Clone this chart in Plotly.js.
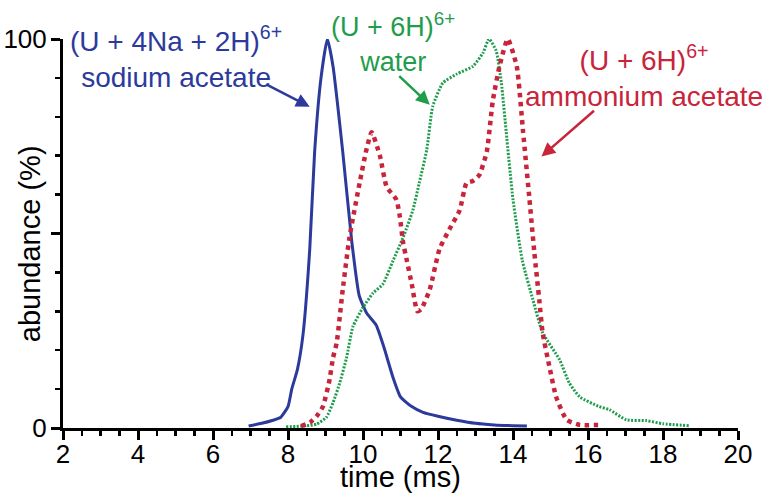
<!DOCTYPE html>
<html>
<head>
<meta charset="utf-8">
<script src="https://cdn.plot.ly/plotly-3.0.1.min.js"></script>
<style>html,body{margin:0;padding:0;background:#fff;}#chart{width:773px;height:493px;}</style>
</head>
<body>
<div id="chart"></div>
<script>
// Sodium acetate (U + 4Na + 2H)6+
const sodiumTime = [6.95, 7.3, 7.6, 7.8, 8.0, 8.1, 8.25, 8.4, 8.58, 8.71, 8.88, 9.05, 9.2, 9.46, 9.7, 9.9, 10.1, 10.35, 10.55, 10.8, 11.0, 11.3, 11.6, 12.0, 12.5, 13.0, 13.5, 14.0, 14.37];
const sodiumAbund = [0.5, 1.2, 2, 2.7, 5.5, 10, 15, 24, 46, 71, 90, 100, 93, 71, 48, 34, 29.5, 26.5, 21, 13, 8, 5.5, 4, 3, 2, 1.2, 0.8, 0.6, 0.5];

// Water (U + 6H)6+
const waterTime = [7.95, 8.4, 8.76, 9.02, 9.2, 9.38, 9.56, 9.73, 10.0, 10.27, 10.53, 10.8, 11.07, 11.33, 11.5, 11.7, 11.86, 12.13, 12.5, 12.93, 13.2, 13.36, 13.55, 13.69, 13.82, 14.0, 14.25, 14.53, 14.79, 15.24, 15.5, 15.78, 16.3, 16.57, 17.02, 17.55, 18.0, 18.7];
const waterAbund = [0.3, 0.5, 1, 2.7, 6.5, 11.6, 18, 26, 31, 34.7, 37, 43, 49, 56, 63, 71.5, 82.7, 88.7, 91, 93, 96.4, 100, 97, 88.7, 76, 58.7, 43, 33, 24.5, 17.6, 11.6, 8, 5.5, 4.7, 2.1, 1.9, 1.1, 0.6];

// Ammonium acetate (U + 6H)6+
const ammoniumTime = [8.35, 8.6, 8.76, 8.93, 9.1, 9.2, 9.3, 9.46, 9.64, 9.91, 10.09, 10.23, 10.45, 10.63, 10.89, 10.98, 11.07, 11.17, 11.3, 11.45, 11.55, 11.78, 12.04, 12.3, 12.58, 12.76, 12.93, 13.1, 13.3, 13.46, 13.64, 13.86, 14.1, 14.27, 14.44, 14.57, 14.7, 14.79, 14.97, 15.15, 15.43, 15.78, 16.37];
const ammoniumAbund = [0.5, 1.5, 3, 5.5, 12, 18, 22, 35.6, 49, 63, 71.5, 76, 70, 62, 58.7, 54.5, 47.6, 43, 37, 30, 30.5, 35.6, 46, 51, 56, 63, 63.5, 65, 71, 84, 93, 100, 93, 76, 58.7, 45, 33, 24.5, 15.8, 8, 2.1, 0.8, 0.8];

const xTickVals = [2, 4, 6, 8, 10, 12, 14, 16, 18, 20];
const yTickVals = [0, 50, 100];
const yTickText = ['0', '', '100'];

const BLUE = '#2c3a9c';
const GREEN = '#1f9d4c';
const RED = '#c8243a';
const FONT = 'Liberation Sans, Arial, sans-serif';

const traces = [
  {x: sodiumTime, y: sodiumAbund, mode: 'lines', line: {color: BLUE, width: 3, shape: 'spline', smoothing: 0.5}, cliponaxis: false},
  {x: waterTime, y: waterAbund, mode: 'lines', line: {color: GREEN, width: 3, dash: '2px,1.5px', shape: 'spline', smoothing: 0.5}, cliponaxis: false},
  {x: ammoniumTime, y: ammoniumAbund, mode: 'lines', line: {color: RED, width: 4.5, dash: 'dot', shape: 'spline', smoothing: 0.5}, cliponaxis: false}
];

const layout = {
  width: 773, height: 493,
  margin: {l: 63, r: 35, t: 39, b: 65},
  paper_bgcolor: '#fff', plot_bgcolor: '#fff',
  showlegend: false,
  font: {family: FONT, color: '#000'},
  xaxis: {
    range: [2, 20], tickvals: xTickVals, showgrid: false, zeroline: false,
    showline: true, linewidth: 3, linecolor: '#000',
    ticks: 'outside', ticklen: 9, tickwidth: 3, tickcolor: '#000',
    tickfont: {size: 26, family: FONT}, ticklabelstandoff: -8,
    minor: {dtick: 0.5, tick0: 0, ticks: 'outside', ticklen: 5, tickwidth: 2.5, tickcolor: '#000', showgrid: false},
    automargin: false
  },
  yaxis: {
    range: [0, 100], tickmode: 'array', tickvals: yTickVals, ticktext: yTickText, showgrid: false, zeroline: false,
    showline: true, linewidth: 3, linecolor: '#000',
    ticks: 'outside', ticklen: 9, tickwidth: 3, tickcolor: '#000',
    tickfont: {size: 26, family: FONT}, ticklabelstandoff: -1,
    minor: {tickmode: 'linear', dtick: 10, tick0: 0, ticks: 'outside', ticklen: 5, tickwidth: 2.5, tickcolor: '#000', showgrid: false},
    automargin: false
  },
  annotations: [
    {xref: 'paper', yref: 'paper', x: 0.5, y: -0.125, xanchor: 'center', yanchor: 'middle', showarrow: false,
     text: 'time (ms)', font: {size: 29, family: FONT, color: '#000'}},
    {xref: 'paper', yref: 'paper', x: -0.049, y: 0.475, xanchor: 'center', yanchor: 'middle', showarrow: false, textangle: -90,
     text: 'abundance (%)', font: {size: 29, family: FONT, color: '#000'}},
    {xref: 'paper', yref: 'paper', x: 0.167, y: 0.954, xanchor: 'center', yanchor: 'middle', showarrow: false,
     text: '(U + 4Na + 2H)<sup>6+</sup><br>sodium acetate', font: {size: 28, color: BLUE, family: FONT}},
    {xref: 'paper', yref: 'paper', x: 0.489, y: 0.99, xanchor: 'center', yanchor: 'middle', showarrow: false,
     text: '(U + 6H)<sup>6+</sup><br>water', font: {size: 27, color: GREEN, family: FONT}},
    {xref: 'paper', yref: 'paper', x: 0.861, y: 0.905, xanchor: 'center', yanchor: 'middle', showarrow: false,
     text: '(U + 6H)<sup>6+</sup><br>ammonium acetate', font: {size: 28, color: RED, family: FONT}},
    {xref: 'x', yref: 'y', x: 8.58, y: 82.6, ax: -45, ay: -23, text: '', showarrow: true,
     arrowhead: 2, arrowsize: 1.1, arrowwidth: 2.5, arrowcolor: BLUE},
    {xref: 'x', yref: 'y', x: 11.78, y: 83.1, ax: -32, ay: -30, text: '', showarrow: true,
     arrowhead: 2, arrowsize: 1.1, arrowwidth: 2.5, arrowcolor: GREEN},
    {xref: 'x', yref: 'y', x: 14.76, y: 69.8, ax: 54, ay: -47, text: '', showarrow: true,
     arrowhead: 2, arrowsize: 1.1, arrowwidth: 2.5, arrowcolor: RED}
  ]
};

Plotly.newPlot('chart', traces, layout, {displayModeBar: false, staticPlot: true});
</script>
</body>
</html>
